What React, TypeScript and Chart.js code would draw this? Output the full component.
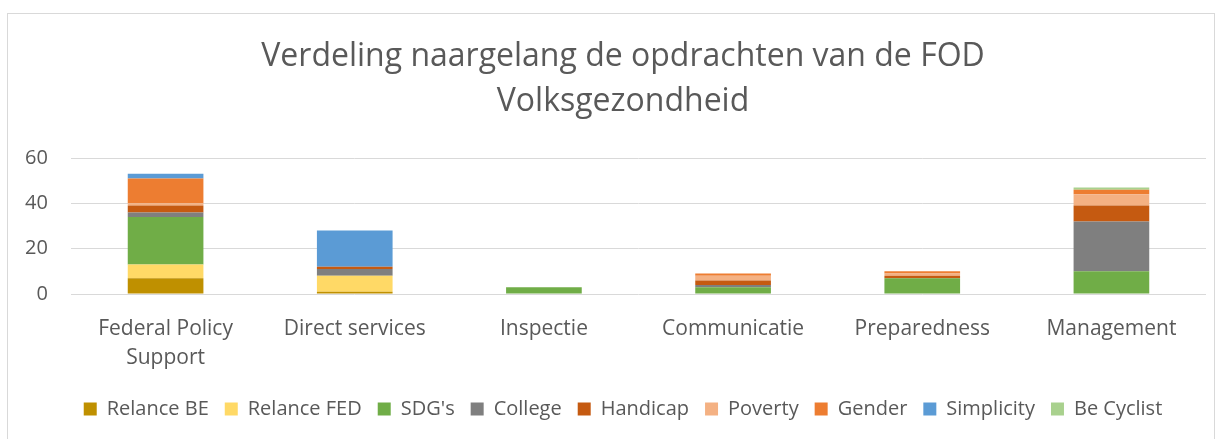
import React, { useEffect, useRef } from "react";
import { Chart, registerables } from "chart.js";

Chart.register(...registerables);

const categories: (string | string[])[] = [
  ["Federal Policy", "Support"],
  "Direct services",
  "Inspectie",
  "Communicatie",
  "Preparedness",
  "Management",
];

const relanceBE = [7, 1, 0, 0, 0, 0];
const relanceFED = [6, 7, 0, 0, 0, 0];
const sdgs = [21, 0, 3, 3, 7, 10];
const college = [2, 3, 0, 1, 0, 22];
const handicap = [3, 1, 0, 2, 1, 7];
const poverty = [1, 0, 0, 2, 1, 5];
const gender = [11, 0, 0, 1, 1, 2];
const simplicity = [2, 16, 0, 0, 0, 0];
const beCyclist = [0, 0, 0, 0, 0, 1];

const yTicks = [0, 20, 40, 60];

const FONT = "'Open Sans', sans-serif";
const TXT = "#595959";

export default function App() {
  const ref = useRef<HTMLCanvasElement | null>(null);
  useEffect(() => {
    if (!ref.current) return;
    const series: [string, number[], string][] = [
      ["Relance BE", relanceBE, "#BF9000"],
      ["Relance FED", relanceFED, "#FFD966"],
      ["SDG's", sdgs, "#70AD47"],
      ["College", college, "#7F7F7F"],
      ["Handicap", handicap, "#C55A11"],
      ["Poverty", poverty, "#F4B183"],
      ["Gender", gender, "#ED7D31"],
      ["Simplicity", simplicity, "#5B9BD5"],
      ["Be Cyclist", beCyclist, "#A9D18E"],
    ];
    const chart = new Chart(ref.current, {
      type: "bar",
      data: {
        labels: categories,
        datasets: series.map(([label, data, color]) => ({
          label,
          data,
          backgroundColor: color,
          borderWidth: 0,
          categoryPercentage: 1,
          barPercentage: 0.4,
        })),
      },
      options: {
        animation: false,
        responsive: false,
        maintainAspectRatio: false,
        layout: { padding: { left: 40, right: 17, top: 13, bottom: 10 } },
        plugins: {
          title: {
            display: true,
            text: ["Verdeling naargelang de opdrachten van de FOD", "Volksgezondheid"],
            color: TXT,
            font: { family: FONT, size: 32, weight: "normal", lineHeight: 45 / 32 },
            padding: { top: 21, bottom: 34 },
          },
          legend: {
            position: "bottom",
            labels: {
              color: TXT,
              font: { family: FONT, size: 20 },
              boxWidth: 13,
              boxHeight: 13,
              padding: 16,
            },
          },
          tooltip: { enabled: false },
        },
        scales: {
          x: {
            stacked: true,
            afterFit: (s: any) => {
              s.height = 89;
            },
            grid: { display: false },
            border: { display: false },
            ticks: {
              color: TXT,
              font: { family: FONT, size: 21, lineHeight: 1.4 },
              maxRotation: 0,
              autoSkip: false,
              padding: 12,
            },
          },
          y: {
            stacked: true,
            min: 0,
            max: 60,
            afterFit: (s: any) => {
              s.width = 31;
            },
            afterBuildTicks: (s: any) => {
              s.ticks = yTicks.map((v) => ({ value: v }));
            },
            grid: { color: "#D9D9D9", lineWidth: 1, drawTicks: false },
            border: { display: false },
            ticks: {
              color: TXT,
              font: { family: FONT, size: 20 },
              mirror: true,
              crossAlign: "far",
              padding: -46,
            },
          },
        },
      },
    });
    return () => chart.destroy();
  }, []);
  return (
    <div style={{ position: "absolute", left: 0, top: 0, width: 1223, height: 439, background: "#fff" }}>
      <div
        style={{
          position: "absolute",
          left: 7,
          top: 13,
          width: 1208,
          height: 440,
          border: "1px solid #D9D9D9",
          boxSizing: "border-box",
        }}
      />
      <canvas ref={ref} width={1223} height={439} style={{ position: "absolute", left: 0, top: 0 }} />
    </div>
  );
}
